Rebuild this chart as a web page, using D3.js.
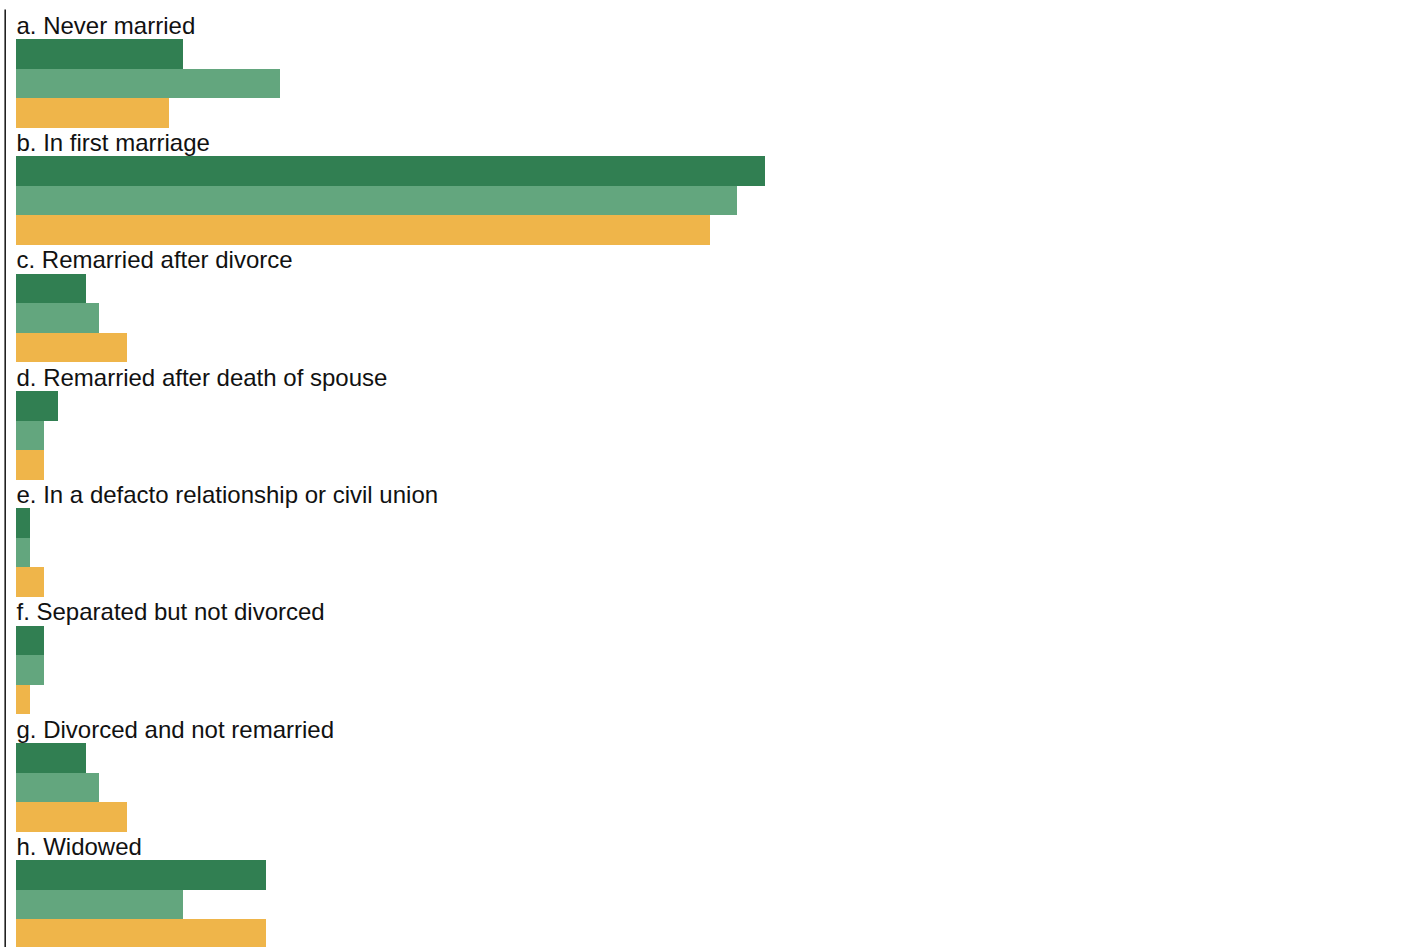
<!DOCTYPE html>
<html>
<head>
<meta charset="utf-8">
<script src="https://cdn.jsdelivr.net/npm/d3@7"></script>
<style>
  html, body { margin: 0; padding: 0; background: #fff; overflow: hidden; }
  svg { display: block; }
  text { font-family: "Liberation Sans", Arial, Helvetica, sans-serif; }
</style>
</head>
<body>
<svg id="chart" width="1427" height="947"></svg>
<script>
const categories = [
  "a. Never married",
  "b. In first marriage",
  "c. Remarried after divorce",
  "d. Remarried after death of spouse",
  "e. In a defacto relationship or civil union",
  "f. Separated but not divorced",
  "g. Divorced and not remarried",
  "h. Widowed"
];
const seriesNames = ["Series 1", "Series 2", "Series 3"];
const series1 = [12, 54, 5, 3, 1, 2, 5, 18];
const series2 = [19, 52, 6, 2, 1, 2, 6, 12];
const series3 = [11, 50, 8, 2, 2, 1, 8, 18];
const seriesColors = ["#317f52", "#63a67e", "#efb54a"];

const allSeries = [series1, series2, series3];
const svg = d3.select("#chart");

const groupTop = 12, groupStep = 117.35;
const y = d3.scaleBand()
  .domain(categories)
  .range([groupTop, groupTop + groupStep * categories.length])
  .paddingInner(0).paddingOuter(0);

const barTop = 27, barBlock = 88.5;
const yInner = d3.scaleBand()
  .domain(seriesNames)
  .range([barTop, barTop + barBlock]);

const x = d3.scaleLinear().domain([0, 100]).range([16.2, 1403.2]);

// left axis line
svg.append("line")
  .attr("x1", 5.2).attr("x2", 5.2)
  .attr("y1", 9.5).attr("y2", 947)
  .attr("stroke", "#222").attr("stroke-width", 1.6);

const groups = svg.selectAll("g.cat")
  .data(categories)
  .join("g")
  .attr("class", "cat")
  .attr("transform", d => `translate(0,${y(d)})`);

groups.append("text")
  .attr("x", 16.5)
  .attr("y", 21.6)
  .attr("font-size", 24)
  .attr("fill", "#111")
  .text(d => d);

groups.each(function(cat, ci) {
  const g = d3.select(this);
  g.selectAll("rect")
    .data(seriesNames.map((s, si) => ({ s, si, v: allSeries[si][ci] })))
    .join("rect")
    .attr("x", x(0))
    .attr("y", d => yInner(d.s))
    .attr("width", d => x(d.v) - x(0))
    .attr("height", yInner.bandwidth())
    .attr("shape-rendering", "crispEdges")
    .attr("fill", d => seriesColors[d.si]);
});
</script>
</body>
</html>
